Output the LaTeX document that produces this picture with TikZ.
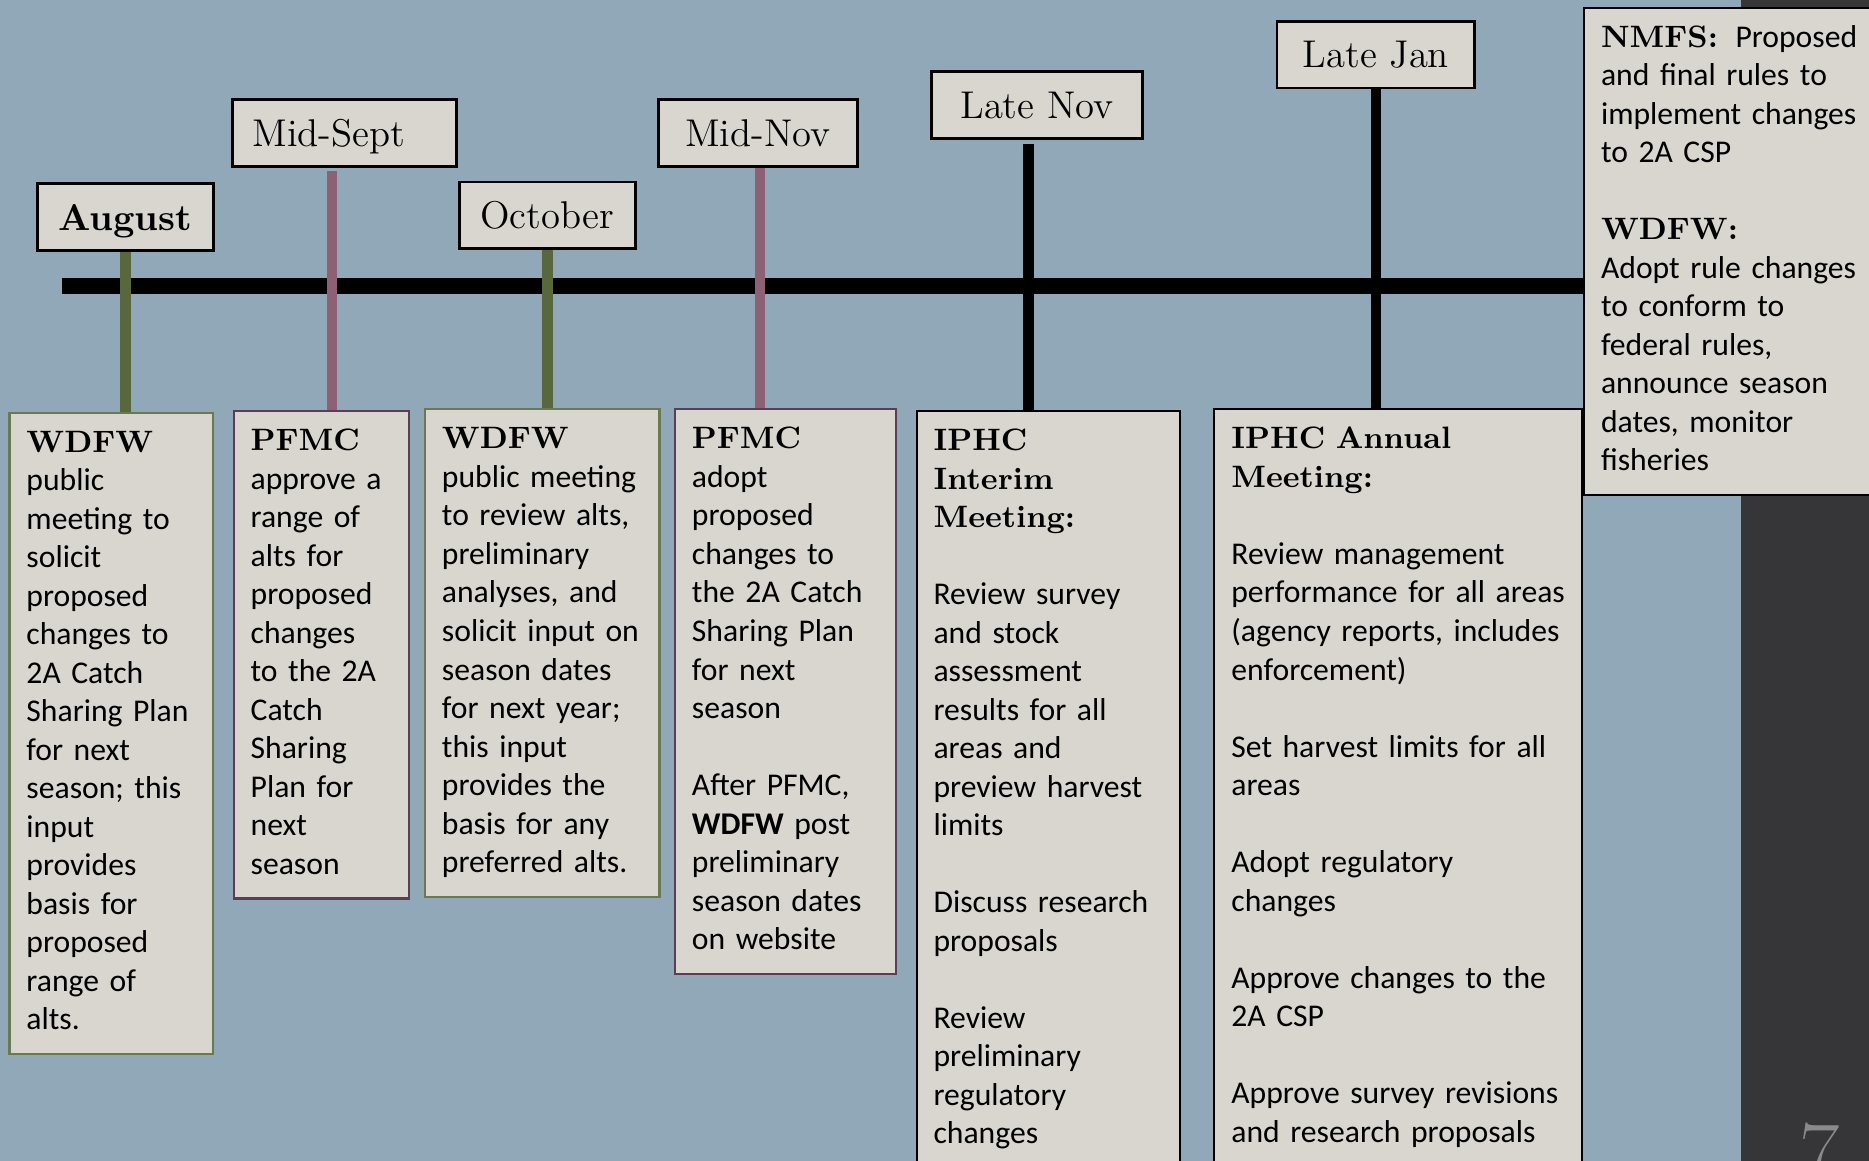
\documentclass[tikz,border=0pt]{standalone}
\usepackage{fontspec}
\setsansfont{Carlito}
\usetikzlibrary{positioning}

\definecolor{slidebg}{RGB}{145,168,185}
\definecolor{boxfill}{RGB}{216,214,207}
\definecolor{stripgray}{RGB}{54,54,56}
\definecolor{stemgreen}{RGB}{88,103,62}
\definecolor{stemmauve}{RGB}{142,96,115}
\definecolor{edgegreen}{RGB}{105,122,78}
\definecolor{edgemauve}{RGB}{92,62,84}
\definecolor{pagegray}{RGB}{138,138,142}

\newcommand{\agency}[1]{{\rmfamily\bfseries\fontsize{8.8}{10.95}\selectfont #1}}

\begin{document}
\begin{tikzpicture}[x=0.01cm, y=-0.01cm,
  month/.style={draw=black, line width=0.8pt, fill=boxfill, inner xsep=0.2cm, inner ysep=5.7pt,
    text height=7.5pt, text depth=0pt, font=\rmfamily\fontsize{11}{13}\selectfont},
  desc/.style={draw=#1, line width=0.6pt, fill=boxfill, anchor=north west, align=left,
    inner xsep=0.17cm, inner ysep=3.6pt, font=\sffamily\fontsize{9}{10.95}\selectfont,
    execute at begin node=\strut, execute at end node=\strut},
  desc/.default=black,
  stem/.style={line width=3pt, draw=#1},
  timeline/.style={line width=4.4pt, draw=black}]
\useasboundingbox (0,0) rectangle (1869,1161);
\clip (0,0) rectangle (1869,1161);
\fill[slidebg] (0,0) rectangle (1869,1161);
\fill[stripgray] (1741,0) rectangle (1869,1161);

% federal rules box on the right
\node[desc, text width=3.0cm] (nmfs) at (1583,6.7) {\agency{NMFS:}\hspace{5pt}Proposed\\
  and final rules to\\ implement changes\\ to 2A CSP\\[\baselineskip]
  \agency{WDFW:}\\ Adopt rule changes\\ to conform to\\ federal rules,\\
  announce season\\ dates, monitor\\ fisheries};

% the time axis
\coordinate (tlstart) at (61.8,286);
\draw[timeline] (tlstart) -- (tlstart -| nmfs.west);

% month labels
\node[month, minimum width=1.76cm, font=\rmfamily\bfseries\fontsize{10.6}{13}\selectfont] (aug) at (125.3,217) {August};
\node[month, text width=1.836cm, align=left] (sept) at (344.4,133) {Mid-Sept};
\node[month, minimum width=1.763cm] (oct) at (547.3,215.2) {October};
\node[month, minimum width=1.99cm] (midnov) at (757.8,133) {Mid-Nov};
\node[month, minimum width=2.108cm] (latenov) at (1036.9,105) {Late Nov};
\node[month, minimum width=1.978cm] (latejan) at (1375.9,54.7) {Late Jan};

% what happens at each step
\node[desc=edgegreen, text width=1.692cm] (dwdfw) at (8.4,411.7) {\agency{WDFW}\\
  public\\ meeting to\\ solicit\\ proposed\\ changes to\\ 2A Catch\\ Sharing Plan\\
  for next\\ season; this\\ input\\ provides\\ basis for\\ proposed\\ range of\\ alts.};
\node[desc=edgemauve, text width=1.411cm] (dpfmc) at (232.6,410) {\agency{PFMC}\\
  approve a\\ range of\\ alts for\\ proposed\\ changes\\ to the 2A\\ Catch\\ Sharing\\
  Plan for\\ next\\ season};
\node[desc=edgegreen, text width=2.004cm] (dwdfwb) at (423.9,408.3) {\agency{WDFW}\\
  public meeting\\ to review alts,\\ preliminary\\ analyses, and\\ solicit input on\\
  season dates\\ for next year;\\ this input\\ provides the\\ basis for any\\ preferred alts.};
\node[desc=edgemauve, text width=1.871cm] (dpfmcb) at (673.9,408.3) {\agency{PFMC}\\
  adopt\\ proposed\\ changes to\\ the 2A Catch\\ Sharing Plan\\ for next\\ season\\[\baselineskip]
  After PFMC,\\ \textbf{WDFW} post\\ preliminary\\ season dates\\ on website};
\node[desc, text width=2.292cm] (diphci) at (915.5,410) {\agency{IPHC}\\ \agency{Interim}\\
  \agency{Meeting:}\\[\baselineskip]
  Review survey\\ and stock\\ assessment\\ results for all\\ areas and\\ preview harvest\\
  limits\\[\baselineskip]
  Discuss research\\ proposals\\[\baselineskip]
  Review\\ preliminary\\ regulatory\\ changes};
\node[desc, text width=3.332cm] (diphca) at (1213.3,408.3) {\agency{IPHC Annual}\\
  \agency{Meeting:}\\[\baselineskip]
  Review management\\ \mbox{performance for all areas}\\ \mbox{(agency reports, includes}\\
  enforcement)\\[\baselineskip]
  Set harvest limits for all\\ areas\\[\baselineskip]
  Adopt regulatory\\ changes\\[\baselineskip]
  Approve changes to the\\ 2A CSP\\[\baselineskip]
  \mbox{Approve survey revisions}\\ and research proposals};

% stems from month to box
\draw[stem=stemgreen] (aug.south) -- (aug.south |- dwdfw.north);
\draw[stem=stemmauve, shorten <=0.9pt] (sept.south -| 332,0) -- (dpfmc.north -| 332,0);
\draw[stem=stemgreen] (oct.south) -- (oct.south |- dwdfwb.north);
\draw[stem=stemmauve] (midnov.south -| 760,0) -- (dpfmcb.north -| 760,0);
\draw[stem=black, shorten <=1.3pt] (latenov.south -| 1028.6,0) -- (diphci.north -| 1028.6,0);
\draw[stem=black] (latejan.south) -- (latejan.south |- diphca.north);

\node[anchor=north, inner sep=0pt, text=pagegray, font=\rmfamily\fontsize{25}{30}\selectfont] (pagenum) at (1819.5,1122.7) {7};
\end{tikzpicture}
\end{document}
